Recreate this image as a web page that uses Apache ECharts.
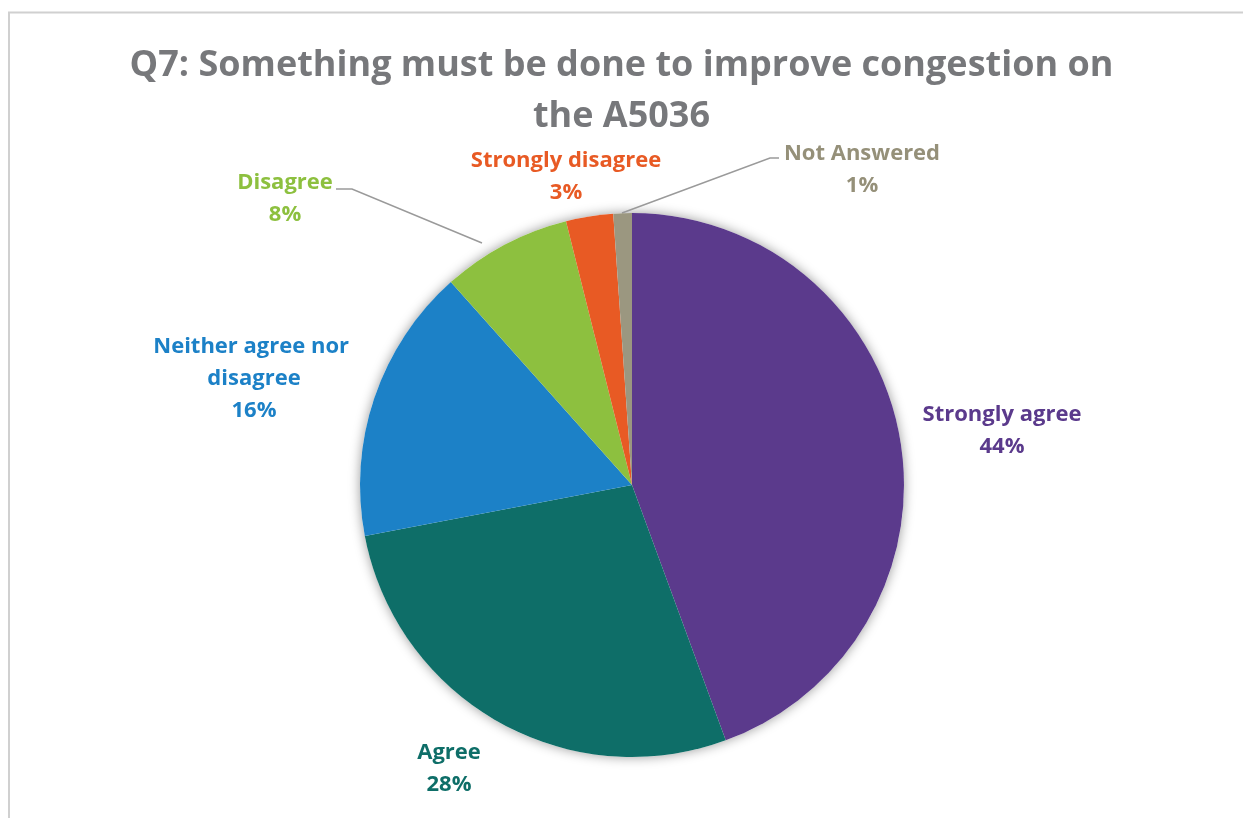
<!DOCTYPE html>
<html><head><meta charset="utf-8">
<script src="https://cdn.jsdelivr.net/npm/echarts@6/dist/echarts.min.js"></script>
<style>html,body{margin:0;padding:0;background:#fff}#c{width:1243px;height:818px}</style>
</head><body><div id="c"></div>
<script>
const titleText = 'Q7: Something must be done to improve congestion on\nthe A5036';
const categories = ['Strongly agree', 'Agree', 'Neither agree nor disagree', 'Disagree', 'Strongly disagree', 'Not Answered'];
const values = [44.4, 27.6, 16.4, 7.7, 2.8, 1.1];
const colors = ['#5B3A8C', '#0E6E68', '#1C81C7', '#8DC03F', '#E85A24', '#9B9780'];
const labelColors = ['#5B3A8C', '#0E6E68', '#1C81C7', '#8DC03F', '#E85A24', '#959079'];
// label centres (layout only)
const labelPos = [[1002, 431], [449, 769], [254, 379], [285, 199], [566, 177], [862, 170]];
const leaderLines = {3: [[482, 243], [352, 189], [336, 189]], 5: [[622, 213], [770, 158], [779, 158]]};

const chart = echarts.init(document.getElementById('c'), null, {renderer: 'canvas'});
const font = 'Open Sans';
chart.setOption({
  animation: false,
  title: {
    text: titleText, left: 'center', top: 35,
    textStyle: {fontFamily: font, fontWeight: 'bold', fontSize: 36, color: '#77787B', lineHeight: 51}
  },
  graphic: [{
    type: 'polyline', silent: true,
    shape: {points: [[9, 830], [9, 12.5], [1260, 12.5]]},
    style: {stroke: '#D0D0D0', lineWidth: 2, fill: null}
  }],
  series: [
    {
      type: 'pie', silent: true, center: [632, 485], radius: 272, z: 1,
      label: {show: false}, labelLine: {show: false},
      itemStyle: {color: '#fff', shadowColor: 'rgba(0,0,0,0.4)', shadowBlur: 12},
      data: [{value: 1}]
    },
    {
      type: 'pie', center: [632, 485], radius: 272, startAngle: 90, clockwise: true, z: 2,
      avoidLabelOverlap: false,
      itemStyle: {borderWidth: 0},
      data: categories.map((n, i) => ({
        name: n, value: values[i],
        itemStyle: {color: colors[i]},
        label: Object.assign({color: labelColors[i]}, i === 2 ? {width: 225, overflow: 'break'} : {}),
        labelLine: {show: leaderLines[i] !== undefined}
      })),
      label: {
        show: true, position: 'outside', fontFamily: font, fontWeight: 'bold', fontSize: 22,
        lineHeight: 32, align: 'center',
        formatter: p => p.name + '\n' + Math.round(p.percent) + '%'
      },
      labelLine: {show: true, lineStyle: {color: '#9A9A9A', width: 1.5}},
      labelLayout: function (p) {
        const pos = labelPos[p.dataIndex];
        const r = {x: pos[0], y: pos[1], align: 'center', verticalAlign: 'middle'};
        if (leaderLines[p.dataIndex]) r.labelLinePoints = leaderLines[p.dataIndex];
        return r;
      }
    }
  ]
});
</script></body></html>
